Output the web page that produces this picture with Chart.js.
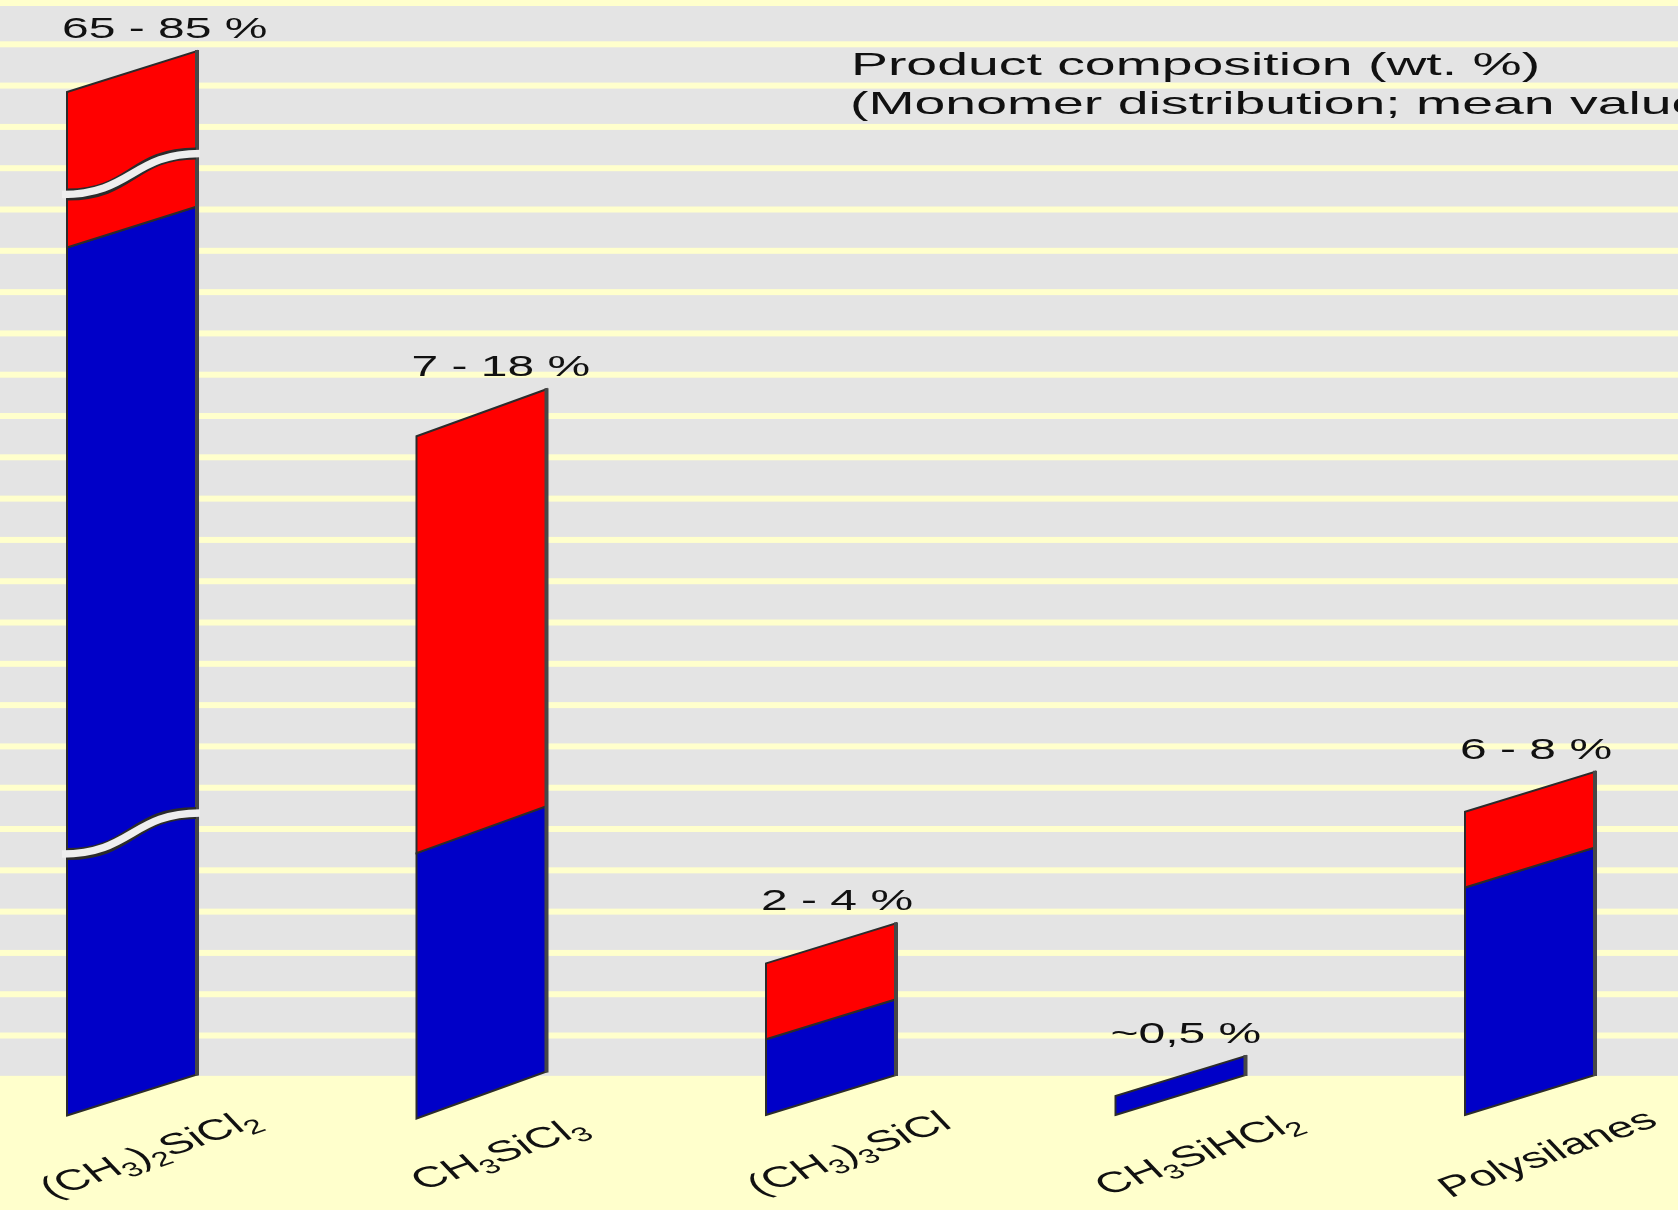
<!DOCTYPE html>
<html>
<head>
<meta charset="utf-8">
<title>Product composition</title>
<script src="https://cdn.jsdelivr.net/npm/chart.js@4.4.0/dist/chart.umd.min.js"></script>
<style>
  html, body { margin: 0; padding: 0; background: #e4e4e4; overflow: hidden; }
</style>
</head>
<body>
<canvas id="composition" width="1678" height="1210"></canvas>
<script>
// Product composition of the direct synthesis, one slanted bar per compound
// blue = lower end of the range, red = rest of the range up to the upper end
let compounds = ['(CH₃)₂SiCl₂', 'CH₃SiCl₃', '(CH₃)₃SiCl', 'CH₃SiHCl₂', 'Polysilanes'];
let rangeLabels = ['65 - 85 %', '7 - 18 %', '2 - 4 %', '~0,5 %', '6 - 8 %'];
// wt. % ; the first bar is drawn cut (axis break), its values are the drawn heights
let lowerPart = [22.9, 7, 2, 0.5, 6];
let rangePart = [4.1, 11, 2, 0, 2];
// where the first bar is cut, in drawn values
let cutsFirstBar = [6.9, 24.3];

let titleLines = ['Product composition (wt. %)', '(Monomer distribution; mean values)'];

// look of the picture
let skew = [41, 47, 40, 40, 40];
let blue = '#0000c8';
let red = '#ff0000';
let grey = '#e4e4e4';
let yellow = '#ffffcc';
let ink = '#111111';
let fontName = '"Liberation Sans", Arial, sans-serif';

function slab(ctx, xl, xr, yb, yt, s, color) {
    ctx.beginPath();
    ctx.moveTo(xl, yb + s / 2);
    ctx.lineTo(xr, yb - s / 2);
    ctx.lineTo(xr, yt - s / 2);
    ctx.lineTo(xl, yt + s / 2);
    ctx.closePath();
    ctx.fillStyle = color;
    ctx.fill();
    ctx.lineWidth = 2;
    ctx.strokeStyle = '#2b2b2b';
    ctx.stroke();
}

function cut(ctx, xl, xr, yc, s) {
    let w = xr - xl;
    let wave = (x0, x1) => {
        ctx.beginPath();
        ctx.moveTo(x0, yc + s / 2);
        ctx.bezierCurveTo(xl + w * 0.5, yc + s / 2, xr - w * 0.5, yc - s / 2, x1, yc - s / 2);
        ctx.stroke();
    };
    ctx.lineCap = 'butt';
    ctx.strokeStyle = '#2b2b2b';
    ctx.lineWidth = 12;
    wave(xl + 1, xr - 1);
    ctx.strokeStyle = '#eeeeee';
    ctx.lineWidth = 7.5;
    wave(xl - 5, xr + 3);
}

function wideText(ctx, text, x, y, sx, size) {
    ctx.save();
    ctx.translate(x, y);
    ctx.scale(sx, 1);
    ctx.font = size + 'px ' + fontName;
    ctx.fillStyle = ink;
    ctx.textAlign = 'left';
    ctx.textBaseline = 'alphabetic';
    ctx.fillText(text, 0, 0);
    ctx.restore();
}

let subDigits = '₀₁₂₃₄₅₆₇₈₉';
function formula(ctx, label, cx, cy) {
    let parts = [];
    for (let ch of label) {
        let k = subDigits.indexOf(ch);
        parts.push(k >= 0 ? { t: String(k), sub: true } : { t: ch, sub: false });
    }
    ctx.save();
    ctx.translate(cx, cy);
    ctx.scale(1.65, 1);
    ctx.rotate(-30 * Math.PI / 180);
    ctx.fillStyle = ink;
    ctx.textBaseline = 'alphabetic';
    ctx.textAlign = 'left';
    let total = 0;
    for (let p of parts) {
        ctx.font = (p.sub ? 20 : 29) + 'px ' + fontName;
        p.w = ctx.measureText(p.t).width;
        total += p.w;
    }
    let x = -total / 2;
    for (let p of parts) {
        ctx.font = (p.sub ? 20 : 29) + 'px ' + fontName;
        ctx.fillText(p.t, x, p.sub ? 17 : 11);
        x += p.w;
    }
    ctx.restore();
}

let slantedBars = {
    id: 'slantedBars',
    beforeDraw(chart) {
        let ctx = chart.ctx;
        let sc = chart.scales.stripes;
        ctx.save();
        ctx.fillStyle = grey;
        ctx.fillRect(0, 0, chart.width, chart.height);
        ctx.fillStyle = yellow;
        for (let k = 0; k < 26; k++) {
            let y = sc.getPixelForValue(k);
            ctx.fillRect(0, y - 3, chart.width, 6);
        }
        let floorTop = sc.getPixelForValue(26) - 1;
        ctx.fillRect(0, floorTop, chart.width, chart.height - floorTop);
        ctx.restore();
    },
    beforeDatasetsDraw(chart) {
        let ctx = chart.ctx;
        let low = chart.getDatasetMeta(0).data;
        let high = chart.getDatasetMeta(1).data;
        let y = chart.scales.y;
        ctx.save();
        for (let i = 0; i < low.length; i++) {
            let b = low[i];
            let r = high[i];
            let s = skew[i];
            let xl = b.x - b.width / 2;
            let xr = b.x + b.width / 2;
            slab(ctx, xl, xr, b.base, b.y, s, blue);
            let top = b.y;
            if (Math.abs(r.base - r.y) > 0.5) {
                slab(ctx, xl, xr, r.base, r.y, s, red);
                top = r.y;
            }
            // darker right side
            ctx.strokeStyle = '#474747';
            ctx.lineWidth = 4;
            ctx.beginPath();
            ctx.moveTo(xr, b.base - s / 2 + 1);
            ctx.lineTo(xr, top - s / 2 - 1);
            ctx.stroke();
            if (i === 0) {
                for (let v of cutsFirstBar) {
                    cut(ctx, xl, xr, y.getPixelForValue(v), s);
                }
            }
            wideText(ctx, rangeLabels[i], xl - 5, top - s / 2 - 13, 1.6, 30);
        }
        ctx.restore();
        return false;
    },
    afterDraw(chart) {
        let ctx = chart.ctx;
        let x = chart.scales.x;
        for (let i = 0; i < compounds.length; i++) {
            formula(ctx, compounds[i], x.getPixelForValue(i) + 16, 1152);
        }
        wideText(ctx, titleLines[0], 851, 75, 1.73, 32);
        wideText(ctx, titleLines[1], 850, 114, 1.73, 32);
    }
};

let ctx = document.getElementById('composition').getContext('2d');
let myChart = new Chart(ctx, {
    type: 'bar',
    data: {
        labels: compounds,
        datasets: [{
            label: 'lower value',
            data: lowerPart,
            backgroundColor: blue,
            barThickness: 130
        }, {
            label: 'range',
            data: rangePart,
            backgroundColor: red,
            barThickness: 130
        }]
    },
    options: {
        responsive: false,
        animation: false,
        events: [],
        layout: {
            padding: { left: 132, right: 148, top: 3, bottom: 115 }
        },
        plugins: {
            legend: { display: false },
            tooltip: { enabled: false }
        },
        scales: {
            x: { stacked: true, offset: false, display: false },
            y: { stacked: true, min: 0, max: 28.81, display: false },
            stripes: { axis: 'y', type: 'linear', position: 'left', min: 0, max: 26.44, reverse: true, display: false }
        }
    },
    plugins: [slantedBars]
});
</script>
</body>
</html>
